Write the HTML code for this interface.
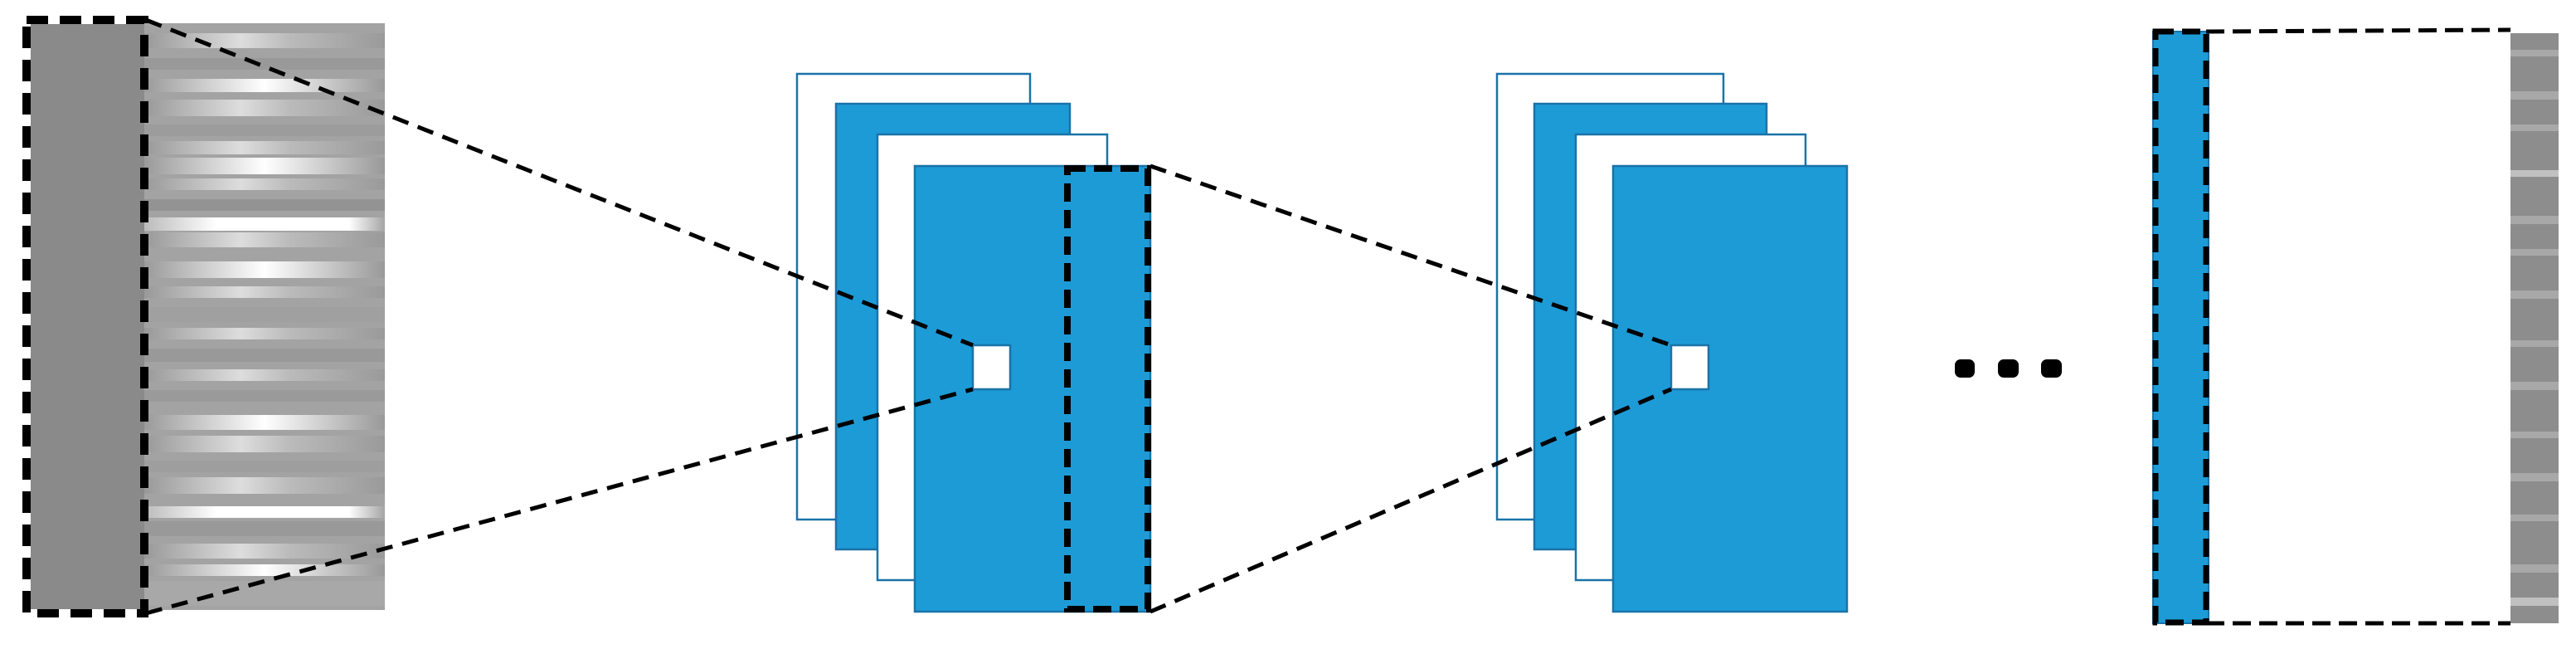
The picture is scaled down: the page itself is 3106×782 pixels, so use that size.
<!DOCTYPE html>
<html><head><meta charset="utf-8"><style>html,body{margin:0;padding:0;background:#fff}svg{display:block}</style></head>
<body>
<svg width="3106" height="782" viewBox="0 0 3106 782" xmlns="http://www.w3.org/2000/svg">
<defs>
<linearGradient id="g1" x1="0" x2="1"><stop offset="0" stop-color="#9a9a9a"/><stop offset="0.5" stop-color="#fff"/><stop offset="0.75" stop-color="#ccc"/><stop offset="1" stop-color="#999"/></linearGradient>
<linearGradient id="g2" x1="0" x2="1"><stop offset="0" stop-color="#999"/><stop offset="0.4" stop-color="#ddd"/><stop offset="0.6" stop-color="#bbb"/><stop offset="1" stop-color="#9a9a9a"/></linearGradient>
<linearGradient id="g3" x1="0" x2="1"><stop offset="0" stop-color="#bbb"/><stop offset="0.3" stop-color="#fff"/><stop offset="0.85" stop-color="#fff"/><stop offset="1" stop-color="#a5a5a5"/></linearGradient>
</defs>
<rect x="174" y="28" width="290" height="707" fill="#a3a3a3"/>
<g>
<rect x="174" y="40" width="290" height="18" fill="url(#g2)"/>
<rect x="174" y="70" width="290" height="14" fill="#999"/>
<rect x="174" y="95" width="290" height="16" fill="url(#g1)"/>
<rect x="174" y="120" width="290" height="20" fill="url(#g2)"/>
<rect x="174" y="150" width="290" height="14" fill="#9c9c9c"/>
<rect x="174" y="170" width="290" height="16" fill="url(#g2)"/>
<rect x="174" y="190" width="290" height="20" fill="url(#g1)"/>
<rect x="174" y="215" width="290" height="14" fill="url(#g2)"/>
<rect x="174" y="240" width="290" height="14" fill="#939393"/>
<rect x="174" y="262" width="290" height="16" fill="url(#g3)"/>
<rect x="174" y="280" width="290" height="18" fill="url(#g2)"/>
<rect x="174" y="315" width="290" height="20" fill="url(#g1)"/>
<rect x="174" y="345" width="290" height="14" fill="url(#g2)"/>
<rect x="174" y="370" width="290" height="18" fill="#a0a0a0"/>
<rect x="174" y="395" width="290" height="14" fill="url(#g2)"/>
<rect x="174" y="420" width="290" height="16" fill="#999"/>
<rect x="174" y="445" width="290" height="14" fill="url(#g2)"/>
<rect x="174" y="470" width="290" height="14" fill="#9a9a9a"/>
<rect x="174" y="500" width="290" height="18" fill="url(#g1)"/>
<rect x="174" y="525" width="290" height="20" fill="url(#g2)"/>
<rect x="174" y="555" width="290" height="14" fill="#9e9e9e"/>
<rect x="174" y="575" width="290" height="20" fill="url(#g2)"/>
<rect x="174" y="610" width="290" height="14" fill="url(#g3)"/>
<rect x="174" y="628" width="290" height="18" fill="#999"/>
<rect x="174" y="655" width="290" height="18" fill="url(#g2)"/>
<rect x="174" y="680" width="290" height="14" fill="url(#g1)"/>
<rect x="174" y="700" width="290" height="30" fill="#a8a8a8"/>
</g>
<rect x="37" y="29" width="137" height="705" fill="#8a8a8a"/>
<rect x="32" y="24" width="142" height="715" fill="none" stroke="#000" stroke-width="10" stroke-dasharray="26 14"/>
<!-- stack 1 -->
<g stroke="#1a73a8" stroke-width="2.5">
<rect x="961" y="89" width="281" height="537" fill="#fff"/>
<rect x="1008" y="125" width="282" height="537" fill="#1d9bd7"/>
<rect x="1058" y="162" width="277" height="537" fill="#fff"/>
<rect x="1103" y="200" width="284" height="537" fill="#1d9bd7"/>
<rect x="1173" y="416" width="45" height="53" fill="#fff"/>
</g>
<rect x="1287" y="203" width="97" height="531" fill="none" stroke="#000" stroke-width="8" stroke-dasharray="22 10"/>
<!-- stack 2 -->
<g stroke="#1a73a8" stroke-width="2.5">
<rect x="1805" y="89" width="273" height="537" fill="#fff"/>
<rect x="1850" y="125" width="280" height="537" fill="#1d9bd7"/>
<rect x="1900" y="162" width="277" height="537" fill="#fff"/>
<rect x="1945" y="200" width="282" height="537" fill="#1d9bd7"/>
<rect x="2015" y="416" width="45" height="53" fill="#fff"/>
</g>
<!-- lines on top -->
<g stroke="#000" stroke-width="5" stroke-dasharray="20 12" fill="none">
<line x1="176" y1="24" x2="1173" y2="416"/>
<line x1="176" y1="739" x2="1173" y2="469"/>
<line x1="1387" y1="200" x2="2015" y2="416"/>
<line x1="1387" y1="737" x2="2015" y2="469"/>
</g>
<!-- dots -->
<rect x="2357" y="433" width="24" height="22" rx="7" fill="#000"/>
<rect x="2409" y="433" width="25" height="22" rx="7" fill="#000"/>
<rect x="2461" y="433" width="25" height="22" rx="7" fill="#000"/>
<!-- right -->
<rect x="2596" y="38" width="67" height="713" fill="#1d9bd7" stroke="#1a73a8" stroke-width="2"/>
<rect x="3027" y="40" width="58" height="711" fill="#8d8d8d"/>
<g fill="#a8a8a8">
<rect x="3027" y="60" width="58" height="8"/><rect x="3027" y="110" width="58" height="10"/><rect x="3027" y="150" width="58" height="8"/><rect x="3027" y="205" width="58" height="8" fill="#c0c0c0"/><rect x="3027" y="260" width="58" height="10"/><rect x="3027" y="300" width="58" height="8"/><rect x="3027" y="350" width="58" height="10"/><rect x="3027" y="410" width="58" height="8"/><rect x="3027" y="460" width="58" height="10"/><rect x="3027" y="520" width="58" height="8"/><rect x="3027" y="570" width="58" height="10"/><rect x="3027" y="620" width="58" height="8"/><rect x="3027" y="680" width="58" height="10"/><rect x="3027" y="720" width="58" height="10" fill="#c0c0c0"/>
</g>
<g stroke="#000" fill="none" stroke-dasharray="22 10">
<rect x="2599" y="38" width="61" height="712" stroke-width="7"/>
<line x1="2660" y1="38" x2="3027" y2="36" stroke-width="5"/>
<line x1="2660" y1="751" x2="3027" y2="751" stroke-width="5"/>
</g>
</svg>
</body></html>
